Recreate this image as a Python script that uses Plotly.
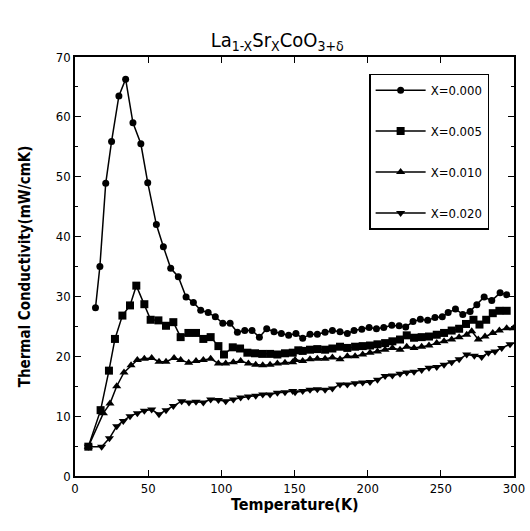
import plotly.graph_objects as go

# X = 0.000 (circles)
t0 = [14, 17, 21, 25, 30, 34.6, 39.6, 45, 49.7, 55.6, 60.4, 65.4, 70.6, 75.9, 80.9, 85.9, 91, 95.9,
      101, 106, 111, 116, 121, 126, 131, 136, 141, 146, 151, 155.6, 160.6, 165.6, 170.9, 175.9,
      181.1, 186.1, 190.7, 196, 201, 206, 211, 216.5, 221.5, 226, 231, 236, 241, 246, 251, 255,
      260, 265, 270, 274.6, 279.6, 284.8, 290.5, 295]
k0 = [28.1, 35, 48.9, 55.9, 63.5, 66.3, 59, 55.5, 49, 42, 38.3, 34.7, 33.3, 29.9, 29.0, 27.7, 27.3, 26.6,
      25.5, 25.5, 24.0, 24.3, 24.3, 23.2, 24.6, 24.1, 23.8, 23.5, 23.8, 23.0, 23.7, 23.7, 24.0, 24.3,
      24.1, 23.8, 24.3, 24.5, 24.8, 24.6, 24.8, 25.2, 25.1, 24.9, 25.8, 26.2, 26.0, 26.5, 26.6, 27.3,
      27.9, 27.0, 27.5, 28.6, 29.9, 29.3, 30.6, 30.3]

# X = 0.005 (squares)
t1 = [9.1, 17.5, 23.2, 27.3, 32.4, 37.6, 41.9, 47.4, 51.7, 57, 62.2, 67.2, 72.2, 77.5, 82.7, 87.7,
      92.7, 98, 101.8, 107.8, 112.8, 117.8, 123, 128, 133.3, 138.3, 143.5, 148.8, 152.6, 155.6,
      160.6, 165.6, 170.9, 175.9, 181.1, 186.1, 191.4, 196.6, 201.6, 206.7, 211.9, 216.9, 222.1,
      226.7, 231.7, 236.9, 241.9, 247.2, 252.2, 257.4, 262.5, 267.2, 272.3, 276.4, 281, 285.5, 290, 295]
k1 = [4.9, 11.0, 17.6, 22.9, 26.8, 28.5, 31.8, 28.7, 26.1, 26.0, 25.1, 25.7, 23.2, 23.9, 23.9, 22.9,
      23.2, 21.7, 20.3, 21.5, 21.3, 20.6, 20.5, 20.4, 20.4, 20.3, 20.5, 20.6, 21.0, 20.9,
      21.1, 21.2, 21.1, 21.3, 21.6, 21.4, 21.6, 21.7, 21.8, 22.0, 22.2, 22.5, 22.8,
      23.5, 23.1, 23.2, 23.3, 23.6, 23.9, 24.3, 24.6, 25.4, 26.1, 25.3, 26.1, 27.2, 27.6, 27.6]

# X = 0.010 (triangles up)
t2 = [9.1, 19.4, 23.9, 28.5, 33.5, 38.3, 42.6, 47.4, 52.4, 57.4, 62.2, 67.7, 72.2, 77.7, 82.7, 87.7,
      92.7, 98, 103, 108.2, 113.2, 118.5, 123.5, 128.3, 133.3, 138.3, 143.5, 148.8, 150.4, 155.6,
      160.6, 165.6, 170.9, 175.9, 181.1, 186.1, 191.4, 196.6, 201.6, 206.7, 211.9, 216.9, 222.1,
      226.7, 231.7, 236.9, 241.9, 247.2, 252.2, 257.4, 262.5, 267.7, 271.1, 275.6, 280.2, 285.5,
      290, 295, 299.6]
k2 = [4.9, 10.5, 12.1, 15.0, 17.3, 18.5, 19.4, 19.6, 19.7, 19.1, 19.1, 19.7, 19.4, 18.9, 19.2, 19.4,
      19.6, 18.8, 18.8, 19.0, 19.2, 18.8, 18.6, 18.5, 18.6, 18.8, 18.9, 19.0, 19.4, 19.2,
      19.5, 19.6, 19.6, 19.8, 19.5, 20.0, 20.0, 20.3, 20.6, 20.8, 21.1, 21.4, 21.1,
      21.6, 21.4, 21.6, 21.8, 22.2, 22.5, 22.8, 23.2, 23.6, 24.2, 22.8, 23.3, 23.9,
      24.3, 24.7, 24.7]

# X = 0.020 (triangles down)
t3 = [9.1, 18.2, 23.5, 28.5, 33, 37.6, 42.6, 47.4, 52.4, 57.4, 62.2, 67.2, 72.9, 77.9, 82.7, 87.7,
      92.7, 98, 103, 108.2, 113.2, 118.5, 123.5, 128.3, 133.3, 138.3, 143.5, 148.8, 150.4, 155.6,
      160.6, 165.6, 170.9, 175.9, 181.1, 186.1, 191.4, 196.6, 201.6, 206.7, 211.9, 216.9, 222.1,
      226.7, 231.7, 236.9, 241.9, 247.2, 252.2, 257.4, 262.5, 267.7, 272.9, 277.9, 282.5, 287,
      291.6, 297.3]
k3 = [4.9, 4.9, 6.3, 8.3, 9.2, 10.0, 10.5, 10.9, 11.1, 10.3, 11.0, 11.7, 12.5, 12.3, 12.4, 12.3,
      12.8, 12.7, 12.5, 12.8, 13.1, 13.3, 13.4, 13.6, 13.6, 13.9, 14.0, 14.2, 14.0, 14.2,
      14.4, 14.5, 14.4, 14.6, 15.3, 15.3, 15.5, 15.6, 15.7, 16.1, 16.7, 16.8, 17.1,
      17.3, 17.4, 17.7, 18.1, 18.2, 18.6, 19.0, 19.5, 20.3, 20.1, 19.9, 20.6, 20.8,
      21.4, 22.0]

names = ["X=0.000", "X=0.005", "X=0.010", "X=0.020"]
xs = [t0, t1, t2, t3]
ys = [k0, k1, k2, k3]
symbols = ["circle", "square", "triangle-up", "triangle-down"]
sizes = [7, 8, 8, 8]

FONT = "Liberation Sans Narrow, Arial Narrow, DejaVu Sans Condensed, Liberation Sans, sans-serif"

fig = go.Figure()
for i in range(4):
    fig.add_trace(go.Scatter(
        x=xs[i], y=ys[i], name=names[i], mode="lines+markers",
        line=dict(color="black", width=1.5),
        marker=dict(symbol=symbols[i], size=sizes[i], color="black"),
        legendgroup=str(i),
    ))

fig.update_layout(
    width=530, height=531,
    margin=dict(l=75, r=16, t=57, b=55, autoexpand=False),
    paper_bgcolor="white", plot_bgcolor="white",
    font=dict(family=FONT, color="black", size=13),
    title=dict(text="La<sub>1-X</sub>Sr<sub>X</sub>CoO<sub>3+δ</sub>", x=0.523, xanchor="center",
               y=0.925, yanchor="middle", font=dict(size=20, family=FONT)),
    showlegend=True,
    legend=dict(x=0.67, y=0.96, xanchor="left", yanchor="top",
                bordercolor="black", borderwidth=1.5, bgcolor="white",
                font=dict(size=13, family=FONT), tracegroupgap=21,
                itemwidth=50),
    annotations=[dict(text="<b>Temperature(K)</b>", xref="paper", yref="paper",
                      x=0.5, y=-0.069, xanchor="center", yanchor="middle",
                      showarrow=False, font=dict(size=16, family=FONT))],
)
fig.update_xaxes(range=[0, 300], dtick=50, tick0=0, showgrid=False, zeroline=False,
                 showline=True, linecolor="black", linewidth=1.5, mirror="ticks",
                 ticks="inside", ticklen=6, tickcolor="black",
                 tickfont=dict(size=13), automargin=False)
fig.update_yaxes(range=[0, 70], dtick=10, tick0=0, showgrid=False, zeroline=False,
                 showline=True, linecolor="black", linewidth=1.5, mirror="ticks",
                 ticks="inside", ticklen=6, tickcolor="black",
                 minor=dict(ticks="inside", dtick=5, ticklen=3, tickcolor="black"),
                 title=dict(text="<b>Thermal Conductivity(mW/cmK)</b>", font=dict(size=15), standoff=22),
                 tickfont=dict(size=13), automargin=False)

# remove the browser's default 8px body margin so the 530x531 figure fills the window exactly
fig.write_html("out.html", config={"displayModeBar": False},
               post_script="document.body.style.margin='0';document.body.style.overflow='hidden';")
